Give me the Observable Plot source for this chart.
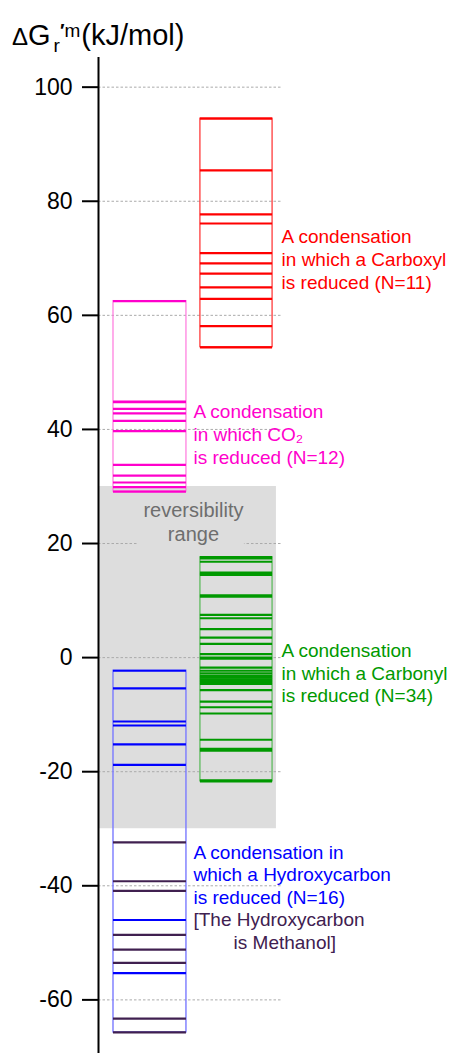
<!DOCTYPE html>
<html>
<head>
<meta charset="utf-8">
<script src="https://cdn.jsdelivr.net/npm/d3@7"></script>
<script src="https://cdn.jsdelivr.net/npm/@observablehq/plot@0.6"></script>
<style>
  html, body { margin: 0; padding: 0; background: #fff; }
  #wrap { position: relative; width: 456px; height: 1053px; }
  #title { position: absolute; left: 12px; top: 21px; font-family: "Liberation Sans", Arial, sans-serif; font-size: 29px; line-height: 28px; white-space: nowrap; color: #000; }
  #title span { display: inline-block; }
</style>
</head>
<body>
<div id="wrap">
  <div id="chart"></div>
  <div id="title"><span style="font-size:24px">Δ</span><span>G</span><span style="font-size:19px;position:relative;top:7px;margin-left:3px">r</span><span style="font-size:19px;position:relative;top:-8px;margin-left:0px"><b>′</b>m</span><span style="margin-left:1px">(kJ/mol)</span></div>
</div>
<script>
// ---- data (kJ/mol) ----
const yTicks = [100, 80, 60, 40, 20, 0, -20, -40, -60];
const reversibility = [-30, 30];
const carboxyl = [94.5, 85.4, 77.7, 76.1, 70.9, 69.1, 67.3, 64.9, 62.9, 58.1, 54.4];
const co2 = [62.5, 44.9, 44.8, 43.6, 42.8, 41.5, 39.7, 33.8, 31.9, 30.7, 29.9, 29.1];
const carbonyl = [17.6, 17.4, 16.8, 14.9, 14.7, 14.5, 10.9, 10.7, 7.5, 6.9, 5.0, 3.5, 2.4, 0.6, 0.0, -0.2,
  -1.75, -2.3, -2.75, -3.2, -3.5, -3.8, -4.1, -4.4, -4.6, -5.7, -7.7, -8.7, -9.8, -14.4, -16.0, -16.3, -21.5, -21.7];
const hydroxycarbon = [-2.3, -5.4, -11.2, -11.9, -15.2, -18.8, -46.0, -55.3];
const methanol = [-32.4, -39.2, -40.9, -48.6, -51.2, -53.5, -63.3, -65.7];

// ---- layout (x in fraction of plot area) ----
const colA = [0.0815, 0.478];
const colB = [0.554, 0.946];
const groups = [
  {values: carboxyl, col: colB, edge: "#ff0000", edgeW: 1},
  {values: co2, col: colA, edge: "#ff77dd", edgeW: 1.2},
  {values: carbonyl, col: colB, edge: "#55b855", edgeW: 1.2},
  {values: hydroxycarbon.concat(methanol), col: colA, edge: "#7a7aff", edgeW: 1.4}
];

const annotations = [
  {t: "A condensation", y: 72.74, x: 0.995, c: "#ff0000"},
  {t: "in which a Carboxyl", y: 68.71, x: 0.995, c: "#ff0000"},
  {t: "is reduced (N=11)", y: 64.68, x: 0.995, c: "#ff0000"},
  {t: "A condensation", y: 42.07, x: 0.516, c: "#ff00cc"},
  {t: "in which CO₂", y: 38.04, x: 0.516, c: "#ff00cc"},
  {t: "is reduced (N=12)", y: 34.0, x: 0.516, c: "#ff00cc"},
  {t: "A condensation", y: 0.175, x: 0.995, c: "#009900"},
  {t: "in which a Carbonyl", y: -3.86, x: 0.995, c: "#009900"},
  {t: "is reduced (N=34)", y: -7.71, x: 0.995, c: "#009900"},
  {t: "A condensation in", y: -35.23, x: 0.516, c: "#0000ff"},
  {t: "which a Hydroxycarbon", y: -39.09, x: 0.516, c: "#0000ff"},
  {t: "is reduced (N=16)", y: -43.12, x: 0.516, c: "#0000ff"},
  {t: "[The Hydroxycarbon", y: -46.98, x: 0.516, c: "#402050"},
  {t: "is Methanol]", y: -51.0, x: 0.734, c: "#402050"}
];
const revLabel = [
  {t: "reversibility", y: 24.7},
  {t: "range", y: 20.5}
];

const font = "'Liberation Sans', Arial, sans-serif";

const marks = [
  Plot.rect([reversibility], {x1: 0, x2: 0.967, y1: d => d[0], y2: d => d[1], fill: "#dddddd"}),
  Plot.ruleY(yTicks, {x1: 0, x2: 1, stroke: "#aaaaaa", strokeWidth: 1, strokeDasharray: "2.5,2"}),
  Plot.rect([0], {x1: 0.212, x2: 0.793, y1: 18.6, y2: 27.6, fill: "#dddddd"}),
  Plot.text(revLabel, {x: 0.516, y: "y", text: "t", fill: "#6e6e6e", fontSize: 20, lineAnchor: "bottom", textAnchor: "middle"})
];
for (const g of groups) {
  marks.push(Plot.rect([g.values], {x1: g.col[0], x2: g.col[1], y1: d => d3.min(d), y2: d => d3.max(d), fill: "none", stroke: g.edge, strokeWidth: g.edgeW}));
}
const lw = 2.2;
marks.push(Plot.ruleY(carboxyl, {x1: colB[0], x2: colB[1], stroke: "#ff0000", strokeWidth: lw}));
marks.push(Plot.ruleY(co2, {x1: colA[0], x2: colA[1], stroke: "#ff00cc", strokeWidth: lw}));
marks.push(Plot.ruleY(carbonyl, {x1: colB[0], x2: colB[1], stroke: "#009900", strokeWidth: lw}));
marks.push(Plot.ruleY(methanol, {x1: colA[0], x2: colA[1], stroke: "#402050", strokeWidth: lw}));
marks.push(Plot.ruleY(hydroxycarbon, {x1: colA[0], x2: colA[1], stroke: "#0000ff", strokeWidth: lw}));
marks.push(Plot.text(annotations, {x: "x", y: "y", text: "t", fill: "c", fontSize: 19, textAnchor: "start", lineAnchor: "bottom"}));
marks.push(Plot.axisY(yTicks, {tickSize: 16, tickPadding: 10, strokeWidth: 2, fontSize: 23, tickFormat: d => String(d), label: null}));
marks.push(Plot.ruleX([0], {stroke: "#000", strokeWidth: 2}));

const chart = Plot.plot({
  width: 456,
  height: 1053,
  marginLeft: 98,
  marginRight: 174,
  marginTop: 57,
  marginBottom: 0,
  x: {domain: [0, 1], axis: null},
  y: {domain: [-69.4, 105.2], label: null},
  color: {type: "identity"},
  style: {fontFamily: font, background: "#fff", color: "#000", overflow: "visible"},
  marks
});
document.getElementById("chart").appendChild(chart);
</script>
</body>
</html>
